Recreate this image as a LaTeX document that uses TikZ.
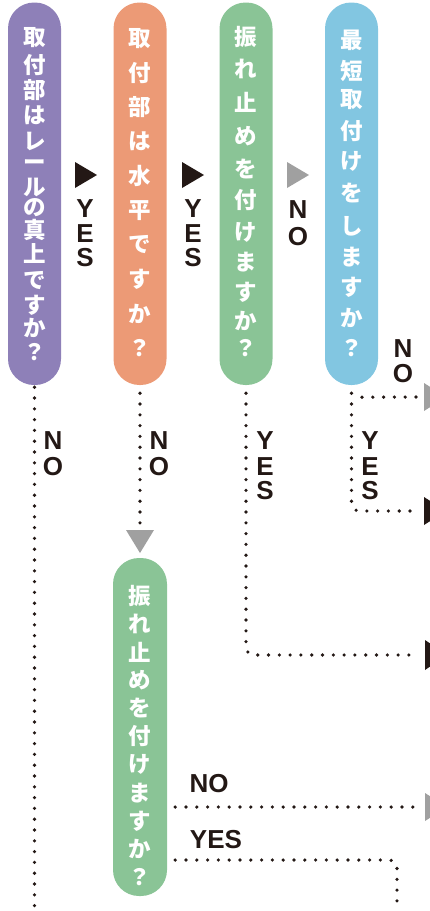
\documentclass[tikz,border=0pt]{standalone}
\usepackage{fontspec}
\setmainfont{Liberation Sans}
\newfontfamily\jp{Noto Sans CJK JP}
\usetikzlibrary{calc}
\definecolor{cpurple}{RGB}{142,128,184}
\definecolor{corange}{RGB}{236,154,118}
\definecolor{cgreen}{RGB}{138,196,150}
\definecolor{cblue}{RGB}{130,198,225}
\definecolor{cgray}{RGB}{160,160,160}
\definecolor{cink}{RGB}{35,24,21}
\begin{document}
\begin{tikzpicture}[x=1pt,y=-1pt,
  pill/.style={draw=none, rounded corners=26pt, minimum width=53pt, inner sep=0pt},
  jchar/.style={text=white, font=\jp\bfseries\fontsize{22.5}{22.5}\selectfont, inner sep=0pt},
  lbl/.style={text=cink, font=\bfseries\fontsize{26}{26}\selectfont, inner sep=0pt, anchor=base},
  dots/.style={draw=cink, line width=3.6pt, line cap=round, dash pattern=on 0pt off 10.8pt},
]
\useasboundingbox (0,0) rectangle (430,911);
\clip (0,0) rectangle (430,911);

% pills
\node[pill, fill=cpurple, minimum height=382.5pt] (q1) at (34.5,193.75) {};
\node[pill, fill=corange, minimum height=382.5pt] (q2) at (140,193.75) {};
\node[pill, fill=cgreen,  minimum height=382.5pt] (q3) at (246,193.75) {};
\node[pill, fill=cblue,   minimum height=382.5pt] (q4) at (351.5,193.75) {};
\node[pill, fill=cgreen,  minimum height=338pt, minimum width=54pt] (q5) at (140,727) {};

% pill texts
\foreach \c/\y [count=\i] in {取/37.5,付/65,部/90,は/115.5,レ/141,ー/165.5,ル/187,の/208,真/230,上/253.5,で/281,す/305,か/328,？/352}
  \node[jchar] (a\i) at (34.5,\y) {\c};
\foreach \c [count=\i] in {取,付,部,は,水,平,で,す,か,？}
  \node[jchar] (b\i) at (140,{38.5+(\i-1)*34.4}) {\c};
\foreach \c/\y [count=\i] in {振/36.7,れ/69,止/102,め/136,を/169,付/200,け/232,ま/262,す/292.5,か/321,？/348}
  \node[jchar] (c\i) at (246,\y) {\c};
\foreach \c/\y [count=\i] in {最/40.8,短/70.8,取/100,付/131,け/161,を/192.5,し/226.7,ま/257.5,す/287.5,か/317.5,？/348}
  \node[jchar] (d\i) at (351.5,\y) {\c};
\foreach \c [count=\i] in {振,れ,止,め,を,付,け,ま,す,か,？}
  \node[jchar] (e\i) at (140,{596+(\i-1)*28.1}) {\c};

% triangles between pills
\coordinate (ta) at (75,175);
\coordinate (tb) at (182,175);
\coordinate (tc) at (287,175);
\fill[cink] ($(ta)+(0,-13)$) -- ($(ta)+(22,0)$) -- ($(ta)+(0,13)$) -- cycle;
\fill[cink] ($(tb)+(0,-13)$) -- ($(tb)+(22,0)$) -- ($(tb)+(0,13)$) -- cycle;
\fill[cgray] ($(tc)+(0,-13)$) -- ($(tc)+(22,0)$) -- ($(tc)+(0,13)$) -- cycle;

% labels between pills
\node[lbl] (la1) at (85,217) {Y};
\node[lbl] (la2) at (85,242) {E};
\node[lbl] (la3) at (85,266) {S};
\node[lbl] (lb1) at (193,217) {Y};
\node[lbl] (lb2) at (193,242) {E};
\node[lbl] (lb3) at (193,266) {S};
\node[lbl] (lc1) at (298,218) {N};
\node[lbl] (lc2) at (298,245) {O};

% right-edge arrow heads and the down arrow
\coordinate (r1) at (424,397);
\coordinate (r2) at (424,511);
\coordinate (r3) at (425,655);
\coordinate (r4) at (425,807);
\coordinate (dn) at (140,530);
\fill[cgray] ($(r1)+(0,-14)$) -- ($(r1)+(22,0)$) -- ($(r1)+(0,14)$) -- cycle;
\fill[cink]  ($(r2)+(0,-14)$) -- ($(r2)+(22,0)$) -- ($(r2)+(0,14)$) -- cycle;
\fill[cink]  ($(r3)+(0,-15)$) -- ($(r3)+(22,0)$) -- ($(r3)+(0,15)$) -- cycle;
\fill[cgray] ($(r4)+(0,-14)$) -- ($(r4)+(22,0)$) -- ($(r4)+(0,14)$) -- cycle;
\fill[cgray] ($(dn)+(-14,0)$) -- ($(dn)+(14,0)$) -- ($(dn)+(0,23)$) -- cycle;

% free ends at the page bottom
\coordinate (bot1) at (34.5,911);
\coordinate (bot2) at (397,911);

% dotted connectors
\draw[dots] ($(q1.south)+(0,2)$) -- (bot1);
\draw[dots] ($(q2.south)+(0,8)$) -- ($(dn)+(0,-5)$);
\draw[dots, rounded corners=8pt] ($(q3.south)+(0,8)$) |- ($(r3)+(-6,0)$);
\draw[dots, rounded corners=8pt] ($(q4.south)+(0,8)$) |- ($(r2)+(-6,0)$);
\draw[dots] ($(q4.south)+(10.5,12)$) -- ($(r1)+(-6,0)$);
\draw[dots] ($(q5.east |- 0,807)+(8,0)$) -- ($(r4)+(-6,0)$);
\draw[dots, rounded corners=8pt] ($(q5.east |- 0,860)+(8,0)$) -| (bot2);

% branch labels
\node[lbl] (ld1) at (53,449) {N};
\node[lbl] (ld2) at (53,475) {O};
\node[lbl] (le1) at (159,449) {N};
\node[lbl] (le2) at (159,475) {O};
\node[lbl] (lf1) at (265,449) {Y};
\node[lbl] (lf2) at (265,475) {E};
\node[lbl] (lf3) at (265,499) {S};
\node[lbl] (lg1) at (370,449) {Y};
\node[lbl] (lg2) at (370,475) {E};
\node[lbl] (lg3) at (370,499) {S};
\node[lbl] (lh1) at (403,357) {N};
\node[lbl] (lh2) at (403,382) {O};
\node[lbl] (li) at (209,792) {NO};
\node[lbl] (lj) at (216,848) {YES};
\end{tikzpicture}
\end{document}
